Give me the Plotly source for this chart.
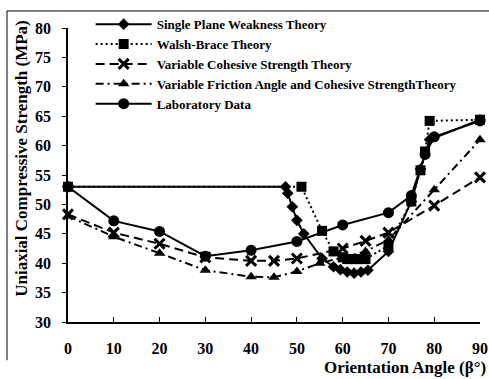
import plotly.graph_objects as go

# ---- data ----
angle_spw = [0, 47.5, 48, 49, 50, 51.5, 55.5, 58, 59.5, 61, 62.5, 64, 65.5, 70, 75, 77, 79, 90]
ucs_spw = [53, 53, 51.9, 49.6, 47.3, 45.0, 40.8, 39.4, 38.9, 38.5, 38.3, 38.5, 38.8, 42.0, 50.5, 56.0, 61.0, 64.4]

angle_wb = [0, 51, 55.5, 58, 60, 61, 62, 63, 64, 65, 70, 75, 77, 78, 79, 90]
ucs_wb = [53, 53, 45.5, 42.0, 41.0, 40.7, 40.7, 40.7, 40.7, 40.7, 43.0, 50.5, 55.8, 59.0, 64.2, 64.4]

angle_vcs = [0, 10, 20, 30, 40, 45, 50, 60, 65, 70, 80, 90]
ucs_vcs = [48.3, 45.2, 43.3, 41.0, 40.4, 40.4, 40.8, 42.5, 43.8, 45.2, 49.8, 54.6]

angle_vfa = [0, 10, 20, 30, 40, 45, 50, 55, 60, 65, 70, 80, 90]
ucs_vfa = [48.0, 44.5, 41.7, 38.8, 37.7, 37.6, 38.6, 40.0, 41.0, 42.0, 44.0, 52.5, 61.0]

angle_lab = [0, 10, 20, 30, 40, 50, 60, 70, 75, 78, 80, 90]
ucs_lab = [53, 47.2, 45.4, 41.2, 42.2, 43.7, 46.5, 48.6, 51.5, 58.5, 61.5, 64.2]

names = [
    "Single Plane Weakness Theory",
    "Walsh-Brace Theory",
    "Variable Cohesive Strength Theory",
    "Variable Friction Angle and Cohesive StrengthTheory",
    "Laboratory Data",
]
x_ticks = [0, 10, 20, 30, 40, 50, 60, 70, 80, 90]
y_ticks = [30, 35, 40, 45, 50, 55, 60, 65, 70, 75, 80]

FONT = "Liberation Serif"

fig = go.Figure()
fig.add_trace(go.Scatter(x=angle_spw, y=ucs_spw, name=names[0], mode="lines+markers",
                         line=dict(color="black", width=2),
                         marker=dict(symbol="diamond", size=9, color="black"), cliponaxis=False))
fig.add_trace(go.Scatter(x=angle_wb, y=ucs_wb, name=names[1], mode="lines+markers",
                         line=dict(color="black", width=2, dash="2px,3px"),
                         marker=dict(symbol="square", size=10, color="black"), cliponaxis=False))
fig.add_trace(go.Scatter(x=angle_vcs, y=ucs_vcs, name=names[2], mode="lines+markers",
                         line=dict(color="black", width=2, dash="9px,5px"),
                         marker=dict(symbol="x-thin", size=10, color="black",
                                     line=dict(width=3, color="black")), cliponaxis=False))
fig.add_trace(go.Scatter(x=angle_vfa, y=ucs_vfa, name=names[3], mode="lines+markers",
                         line=dict(color="black", width=2, dash="8px,4px,2px,4px"),
                         marker=dict(symbol="triangle-up", size=10, color="black"), cliponaxis=False))
fig.add_trace(go.Scatter(x=angle_lab, y=ucs_lab, name=names[4], mode="lines+markers",
                         line=dict(color="black", width=2),
                         marker=dict(symbol="circle", size=11, color="black"), cliponaxis=False))

fig.update_layout(
    width=489, height=379,
    margin=dict(l=68, r=9, t=28, b=57, autoexpand=False),
    paper_bgcolor="white", plot_bgcolor="white",
    font=dict(family=FONT, color="black", size=15, weight="bold"),
    showlegend=True,
    legend=dict(x=0.055, y=1.064, xanchor="left", yanchor="top",
                bgcolor="rgba(0,0,0,0)", itemwidth=56,
                font=dict(family=FONT, size=13, color="black", weight="bold"),
                tracegroupgap=0),
    xaxis=dict(range=[0, 90], tickvals=x_ticks, showgrid=False, zeroline=False,
               showline=True, linecolor="black", linewidth=1.5,
               ticks="inside", ticklen=5, tickwidth=1.2, tickcolor="black",
               ticklabelstandoff=11,
               tickfont=dict(family=FONT, size=16, weight="bold")),
    xaxis2=dict(range=[0, 90], tickvals=x_ticks, overlaying="x", anchor="y", side="bottom",
                showgrid=False, zeroline=False, showline=False, showticklabels=False,
                ticks="outside", ticklen=3, tickwidth=1.2, tickcolor="black"),
    yaxis=dict(range=[30, 80], tickvals=y_ticks, showgrid=False, zeroline=False,
               showline=True, linecolor="black", linewidth=1.5,
               ticks="outside", ticklen=4, tickwidth=1.2, tickcolor="black",
               ticklabelstandoff=8,
               tickfont=dict(family=FONT, size=16, weight="bold")),
    annotations=[
        dict(text="Orientation Angle (β°)", xref="paper", yref="paper",
             x=1.02, y=-0.156, xanchor="right", yanchor="middle", showarrow=False,
             font=dict(family=FONT, size=17, color="black", weight="bold")),
        dict(text="Uniaxial Compressive Strength (MPa)", xref="paper", yref="paper",
             x=-0.112, y=0.558, xanchor="center", yanchor="middle", textangle=-90,
             showarrow=False,
             font=dict(family=FONT, size=17, color="black", weight="bold")),
    ],
    shapes=[
        dict(type="line", xref="paper", yref="paper", x0=-0.148, x1=1.022, y0=1.058, y1=1.058,
             line=dict(color="black", width=1)),
        dict(type="line", xref="paper", yref="paper", x0=-0.148, x1=-0.148, y0=1.058, y1=-0.13,
             line=dict(color="black", width=1)),
    ],
)

fig.write_html("out.html")
